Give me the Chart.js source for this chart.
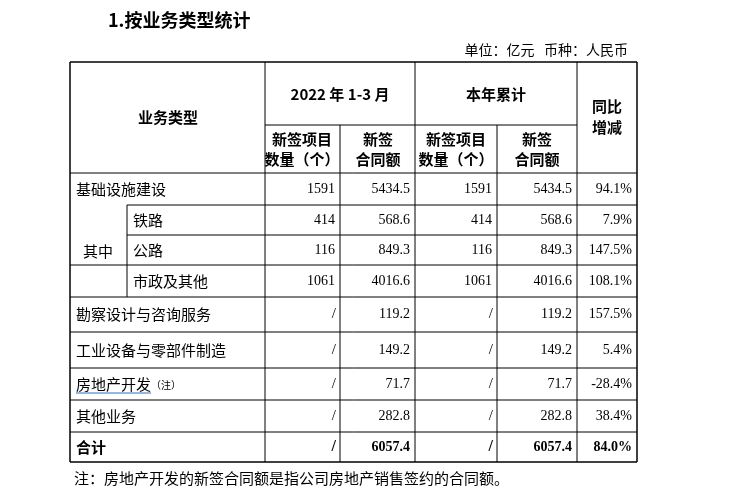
<!DOCTYPE html>
<html>
<head>
<meta charset="utf-8">
<script src="https://cdn.jsdelivr.net/npm/chart.js@4"></script>
<style>
  body { margin: 0; background: #fff; }
  canvas { display: block; }
</style>
</head>
<body>
<canvas id="tabela" width="742" height="496"></canvas>
<script>
// dados da tabela
var categorias = ["基础设施建设", "铁路", "公路", "市政及其他", "勘察设计与咨询服务", "工业设备与零部件制造", "房地产开发", "其他业务", "合计"];
var quantidade = ["1591", "414", "116", "1061", "/", "/", "/", "/", "/"];
var valor = ["5434.5", "568.6", "849.3", "4016.6", "119.2", "149.2", "71.7", "282.8", "6057.4"];
var quantidadeAno = ["1591", "414", "116", "1061", "/", "/", "/", "/", "/"];
var valorAno = ["5434.5", "568.6", "849.3", "4016.6", "119.2", "149.2", "71.7", "282.8", "6057.4"];
var variacao = ["94.1%", "7.9%", "147.5%", "108.1%", "157.5%", "5.4%", "-28.4%", "38.4%", "84.0%"];

// grade (unidades da escala)
var colunas = [70, 127, 265, 340, 415, 497, 577, 637];
var linhas = [173, 205, 235, 265, 297, 332, 368, 400, 432, 462];

var CJK = '"Noto Sans CJK SC", "Noto Sans", sans-serif';
var SERIF = '"Liberation Serif", "DejaVu Serif", serif';

function texto(ctx, t, x, y, fonte, align) {
    ctx.font = fonte;
    ctx.textAlign = align || 'left';
    ctx.textBaseline = 'middle';
    ctx.fillStyle = '#000';
    ctx.fillText(t, x, y);
}

var pluginTabela = {
    id: 'pluginTabela',
    afterDraw: function (chart) {
        var ctx = chart.ctx;
        var sx = chart.scales.x, sy = chart.scales.y;
        function X(v) { return sx.getPixelForValue(v); }
        function Y(v) { return sy.getPixelForValue(v); }
        function linha(x1, y1, x2, y2, w) {
            ctx.beginPath();
            ctx.lineWidth = w || 1;
            ctx.strokeStyle = '#000';
            ctx.moveTo(X(x1), Y(y1));
            ctx.lineTo(X(x2), Y(y2));
            ctx.stroke();
        }
        ctx.save();

        texto(ctx, '1.按业务类型统计', X(108), Y(20), 'bold 18px ' + CJK);
        texto(ctx, '单位：亿元   币种：人民币', X(628), Y(50), '14px ' + CJK, 'right');

        // bordas
        var topo = 62, base = linhas[linhas.length - 1];
        linha(70, topo, 637, topo, 1.5);
        linha(70, base, 637, base, 1.5);
        linha(70, topo, 70, base, 1.5);
        linha(637, topo, 637, base, 1.5);
        linha(265, 125, 577, 125);
        for (var i = 0; i < linhas.length - 1; i++) {
            var xi = (i >= 1 && i <= 2) ? 127 : 70;
            linha(xi, linhas[i], 637, linhas[i]);
        }
        linha(127, 205, 127, 297);
        [265, 415, 577].forEach(function (c) { linha(c, topo, c, base); });
        [340, 497].forEach(function (c) { linha(c, 125, c, base); });

        // cabeçalho
        texto(ctx, '业务类型', X(168), Y(117), 'bold 15px ' + CJK, 'center');
        texto(ctx, '2022 年 1-3 月', X(340), Y(94), 'bold 15px ' + CJK, 'center');
        texto(ctx, '本年累计', X(496), Y(94), 'bold 15px ' + CJK, 'center');
        texto(ctx, '同比', X(607), Y(106), 'bold 15px ' + CJK, 'center');
        texto(ctx, '增减', X(607), Y(127), 'bold 15px ' + CJK, 'center');
        [[302, 378], [456, 537]].forEach(function (par) {
            texto(ctx, '新签项目', X(par[0]), Y(139), 'bold 15px ' + CJK, 'center');
            texto(ctx, '数量（个）', X(par[0]), Y(159), 'bold 15px ' + CJK, 'center');
            texto(ctx, '新签', X(par[1]), Y(139), 'bold 15px ' + CJK, 'center');
            texto(ctx, '合同额', X(par[1]), Y(159), 'bold 15px ' + CJK, 'center');
        });
        texto(ctx, '其中', X(98), Y(251), '15px ' + CJK, 'center');

        // corpo
        for (var r = 0; r < categorias.length; r++) {
            var meio = (linhas[r] + linhas[r + 1]) / 2;
            var total = r === categorias.length - 1;
            var fc = (total ? 'bold ' : '') + '15px ' + CJK;
            var fn = (total ? 'bold ' : '') + '14px ' + SERIF;
            var xc = (r >= 1 && r <= 3) ? 133 : 76;
            texto(ctx, categorias[r], X(xc), Y(meio), fc);
            if (categorias[r] === '房地产开发') {
                ctx.font = fc;
                var w = ctx.measureText(categorias[r]).width;
                ctx.beginPath();
                ctx.strokeStyle = '#2b6fc0';
                ctx.lineWidth = 1;
                ctx.moveTo(X(xc), Y(meio + 9));
                ctx.lineTo(X(xc) + w, Y(meio + 9));
                ctx.stroke();
                texto(ctx, '（注）', X(xc) + w, Y(meio + 1), '10px ' + CJK);
            }
            [[quantidade, 340], [valor, 415], [quantidadeAno, 497], [valorAno, 577], [variacao, 637]].forEach(function (c) {
                var v = c[0][r];
                if (v === '/') {
                    texto(ctx, v, X(c[1] - 4), Y(meio), (total ? 'bold 16px ' : '15px ') + SERIF, 'right');
                } else {
                    texto(ctx, v, X(c[1] - 5), Y(meio), fn, 'right');
                }
            });
        }

        texto(ctx, '注：房地产开发的新签合同额是指公司房地产销售签约的合同额。', X(74), Y(478), '15px ' + CJK);
        ctx.restore();
    }
};

new Chart(document.getElementById('tabela'), {
    type: 'scatter',
    data: { datasets: [{ data: [], showLine: false }] },
    options: {
        responsive: false,
        animation: false,
        layout: { padding: 0 },
        plugins: { legend: { display: false }, tooltip: { enabled: false } },
        scales: {
            x: { type: 'linear', min: 0, max: 742, display: false },
            y: { type: 'linear', min: 0, max: 496, reverse: true, display: false }
        }
    },
    plugins: [pluginTabela]
});
</script>
</body>
</html>
